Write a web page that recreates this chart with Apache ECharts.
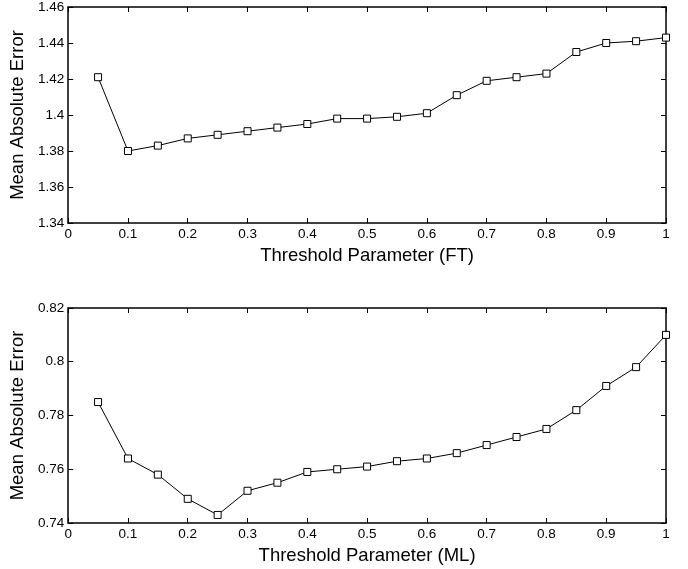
<!DOCTYPE html>
<html>
<head>
<meta charset="utf-8">
<script src="https://cdn.jsdelivr.net/npm/echarts@6/dist/echarts.min.js"></script>
<style>
  html, body { margin: 0; padding: 0; background: #fff; }
  #chart { width: 688px; height: 569px; }
</style>
</head>
<body>
<div id="chart"></div>
<script>
  // threshold values on the x axis (shared by both panels)
  const thresholds = [0.05, 0.1, 0.15, 0.2, 0.25, 0.3, 0.35, 0.4, 0.45, 0.5,
                      0.55, 0.6, 0.65, 0.7, 0.75, 0.8, 0.85, 0.9, 0.95, 1.0];
  // top panel: FT
  const maeFT = [1.421, 1.380, 1.383, 1.387, 1.389, 1.391, 1.393, 1.395, 1.398, 1.398,
                 1.399, 1.401, 1.411, 1.419, 1.421, 1.423, 1.435, 1.440, 1.441, 1.443];
  // bottom panel: ML
  const maeML = [0.785, 0.764, 0.758, 0.749, 0.743, 0.752, 0.755, 0.759, 0.760, 0.761,
                 0.763, 0.764, 0.766, 0.769, 0.772, 0.775, 0.782, 0.791, 0.798, 0.810];
  const xTicks = [0, 1, 0.1];            // min, max, interval
  const yTicksFT = [1.34, 1.46, 0.02];
  const yTicksML = [0.74, 0.82, 0.02];
  const xNames = ['Threshold Parameter (FT)', 'Threshold Parameter (ML)'];
  const yName = 'Mean Absolute Error';

  const font = '"Liberation Sans", Arial, Helvetica, sans-serif';

  function axisBase(range) {
    return {
      type: 'value',
      min: range[0],
      max: range[1],
      interval: range[2],
      splitLine: { show: false },
      axisLine: { show: true, onZero: false, lineStyle: { color: '#000', width: 1.5 } },
      axisTick: { show: true, inside: true, length: 5, lineStyle: { color: '#000', width: 1 } },
      axisLabel: { color: '#000', fontSize: 13.5, fontFamily: font, margin: 4 }
    };
  }

  function xAxes(gridIndex, name) {
    let bottom = axisBase(xTicks);
    bottom.gridIndex = gridIndex;
    bottom.position = 'bottom';
    bottom.name = name;
    bottom.nameLocation = 'middle';
    bottom.nameGap = 23;
    bottom.nameTextStyle = { color: '#000', fontSize: 18.5, fontFamily: font };
    let top = axisBase(xTicks);
    top.gridIndex = gridIndex;
    top.position = 'top';
    top.axisLabel = { show: false };
    return [bottom, top];
  }

  function yAxes(gridIndex, range) {
    let left = axisBase(range);
    left.gridIndex = gridIndex;
    left.position = 'left';
    left.name = yName;
    left.nameLocation = 'middle';
    left.nameGap = 38;
    left.nameTextStyle = { color: '#000', fontSize: 18.5, fontFamily: font };
    let right = axisBase(range);
    right.gridIndex = gridIndex;
    right.position = 'right';
    right.axisLabel = { show: false };
    return [left, right];
  }

  function lineSeries(values, axisIdx) {
    return {
      type: 'line',
      xAxisIndex: axisIdx,
      yAxisIndex: axisIdx,
      data: thresholds.map((x, i) => [x, values[i]]),
      symbol: 'rect',
      symbolSize: 7,
      showAllSymbol: true,
      itemStyle: { color: '#fff', borderColor: '#000', borderWidth: 1 },
      lineStyle: { color: '#000', width: 1 },
      emphasis: { disabled: true }
    };
  }

  let myChart = echarts.init(document.getElementById('chart'));
  myChart.setOption({
    animation: false,
    backgroundColor: '#fff',
    grid: [
      { left: 65, top: 7, width: 601, height: 216 },
      { left: 65, top: 308, width: 601, height: 215 }
    ],
    xAxis: [].concat(xAxes(0, xNames[0]), xAxes(1, xNames[1])),
    yAxis: [].concat(yAxes(0, yTicksFT), yAxes(1, yTicksML)),
    series: [
      lineSeries(maeFT, 0),
      lineSeries(maeML, 2)
    ]
  });
</script>
</body>
</html>
